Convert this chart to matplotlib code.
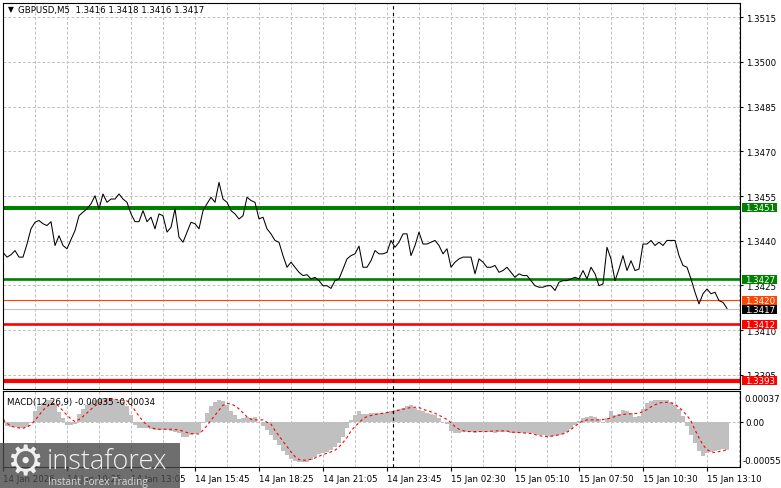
import numpy as np
import matplotlib.pyplot as plt
import matplotlib.transforms as mtransforms
from matplotlib.patches import Rectangle

plt.rcParams['font.family'] = ['DejaVu Sans']

# GBPUSD M5, close every 2 bars (10 min) starting 14 Jan 07:45
close = [
    1.34361, 1.34345, 1.34353, 1.34367, 1.34345, 1.34345, 1.34389, 1.34440, 1.34462, 1.34468,
    1.34457, 1.34451, 1.34464, 1.34384, 1.34417, 1.34384, 1.34373, 1.34404, 1.34434, 1.34484,
    1.34496, 1.34507, 1.34524, 1.34551, 1.34507, 1.34557, 1.34529, 1.34540, 1.34540, 1.34557,
    1.34540, 1.34529, 1.34490, 1.34464, 1.34464, 1.34501, 1.34464, 1.34479, 1.34440, 1.34490,
    1.34484, 1.34429, 1.34445, 1.34507, 1.34412, 1.34395, 1.34429, 1.34462, 1.34457, 1.34440,
    1.34501, 1.34524, 1.34546, 1.34529, 1.34596, 1.34540, 1.34529, 1.34501, 1.34490, 1.34473,
    1.34484, 1.34546, 1.34535, 1.34529, 1.34473, 1.34479, 1.34440, 1.34423, 1.34401, 1.34395,
    1.34350, 1.34311, 1.34328, 1.34311, 1.34294, 1.34283, 1.34286, 1.34272, 1.34277, 1.34266,
    1.34249, 1.34249, 1.34240, 1.34266, 1.34272, 1.34305, 1.34339, 1.34350, 1.34356, 1.34382,
    1.34311, 1.34311, 1.34333, 1.34367, 1.34356, 1.34356, 1.34361, 1.34401, 1.34378, 1.34395,
    1.34423, 1.34423, 1.34350, 1.34384, 1.34429, 1.34389, 1.34389, 1.34395, 1.34401, 1.34384,
    1.34356, 1.34373, 1.34311, 1.34328, 1.34339, 1.34345, 1.34345, 1.34345, 1.34289, 1.34339,
    1.34328, 1.34311, 1.34311, 1.34317, 1.34294, 1.34300, 1.34311, 1.34294, 1.34277, 1.34289,
    1.34283, 1.34283, 1.34266, 1.34249, 1.34244, 1.34244, 1.34249, 1.34249, 1.34233, 1.34261,
    1.34266, 1.34266, 1.34272, 1.34277, 1.34272, 1.34300, 1.34272, 1.34311, 1.34289, 1.34249,
    1.34255, 1.34378, 1.34339, 1.34266, 1.34305, 1.34350, 1.34300, 1.34333, 1.34300, 1.34305,
    1.34389, 1.34389, 1.34401, 1.34384, 1.34395, 1.34384, 1.34401, 1.34401, 1.34401, 1.34350,
    1.34317, 1.34311, 1.34272, 1.34227, 1.34188, 1.34222, 1.34238, 1.34222, 1.34227, 1.34199,
    1.34193, 1.34173,
]

# MACD(12,26,9) main (histogram) and signal, in units of 1e-5
macd_main = [
    3.2, -5.2, -6.1, -6.9, -8.1, -7.7, -6.1, -1.2, 13.3, 19.4,
    23.0, 25.8, 26.2, 21.4, 12.1, 4.8, -4.0, -4.0, -2.8, 8.9,
    15.3, 20.2, 23.4, 26.2, 27.4, 28.3, 28.3, 28.3, 27.4, 26.6,
    24.2, 19.4, 8.1, -4.0, -8.1, -8.1, -8.1, -9.3, -10.1, -10.1,
    -10.1, -10.1, -11.3, -12.5, -14.1, -19.0, -18.2, -16.1, -14.5, -13.3,
    -2.0, 10.9, 19.0, 24.2, 26.2, 25.4, 19.8, 13.3, 7.7, 3.2,
    4.0, 6.1, 4.8, 5.2, 0.0, -5.7, -9.7, -15.7, -22.2, -28.7,
    -35.1, -40.8, -45.2, -47.6, -49.2, -49.2, -48.4, -46.0, -43.2, -39.1,
    -37.5, -36.3, -33.9, -31.1, -25.4, -18.6, -7.3, 2.4, 8.1, 13.3,
    9.7, 8.9, 10.1, 10.1, 10.5, 10.9, 11.7, 12.5, 13.7, 15.3,
    16.1, 19.4, 20.2, 16.5, 14.5, 12.5, 10.9, 8.9, 7.7, 4.4,
    -0.8, -2.4, -10.9, -14.1, -13.7, -12.1, -12.1, -12.5, -13.7, -12.9,
    -12.1, -12.1, -12.9, -13.3, -12.5, -12.1, -12.1, -13.3, -13.7, -14.1,
    -14.1, -14.1, -14.1, -14.9, -15.7, -16.5, -17.4, -18.2, -17.4, -16.5,
    -14.9, -12.9, -8.9, -4.0, 1.2, 4.0, 6.1, 6.9, 6.1, 2.8,
    -1.6, 4.8, 12.5, 8.1, 9.7, 13.7, 12.5, 10.1, 5.2, 6.5,
    15.3, 22.2, 25.0, 25.8, 26.2, 26.2, 25.8, 23.8, 20.2, 15.3,
    6.9, -4.8, -16.1, -26.2, -35.9, -41.2, -38.3, -36.7, -35.5, -34.3,
    -33.5, -35.0,
]
macd_signal = [
    2.0, -2.0, -5.7, -6.9, -7.7, -8.1, -6.5, -4.0, 1.6, 7.7,
    13.7, 18.2, 21.4, 22.2, 18.2, 12.9, 7.7, 3.2, 0.0, 2.4,
    6.1, 10.5, 14.9, 19.0, 22.2, 24.6, 26.2, 26.6, 27.0, 26.2,
    25.8, 25.0, 21.0, 13.3, 6.5, 0.4, -4.4, -7.7, -8.5, -9.3,
    -9.3, -9.3, -9.3, -9.7, -10.1, -11.7, -13.3, -14.5, -14.9, -14.9,
    -10.5, -4.8, 1.6, 7.7, 13.7, 19.8, 21.8, 21.4, 19.0, 15.3,
    10.5, 5.7, 2.8, 2.0, 2.0, 2.0, -0.8, -3.2, -10.9, -17.4,
    -23.8, -30.3, -36.7, -42.4, -46.0, -46.8, -46.8, -45.6, -44.0, -42.0,
    -40.0, -38.3, -36.7, -34.7, -30.7, -25.4, -19.4, -11.3, -6.1, -1.2,
    3.2, 6.1, 7.3, 8.5, 9.3, 10.1, 10.9, 11.3, 12.5, 13.7,
    14.9, 16.1, 17.0, 17.4, 17.0, 14.9, 13.3, 11.7, 10.1, 7.7,
    5.2, 2.4, -1.2, -6.1, -9.3, -10.9, -12.1, -12.1, -12.1, -12.1,
    -12.1, -12.1, -11.7, -11.3, -11.3, -11.3, -11.3, -12.9, -12.9, -13.3,
    -13.7, -14.1, -14.5, -15.7, -17.0, -17.8, -18.2, -17.8, -17.0, -16.1,
    -14.9, -12.9, -9.7, -5.7, -2.0, 0.8, 2.0, 2.0, 2.0, 2.0,
    2.4, 3.2, 4.4, 6.1, 7.7, 8.5, 9.3, 9.3, 9.7, 10.1,
    12.1, 14.5, 17.8, 20.2, 22.6, 23.0, 23.4, 22.6, 20.6, 17.4,
    12.5, 7.3, 0.8, -10.1, -19.8, -28.3, -33.9, -36.7, -37.5, -36.3,
    -35.5, -34.0,
]

levels = [1.3451, 1.3427, 1.3420, 1.3412, 1.3393]
level_colors = ['#008000', '#008000', '#ff4500', '#ff0000', '#ff0000']
level_widths = [2.9, 1.9, 0.8, 1.9, 3.0]
last_price = 1.3417

price_ticks = [1.3395, 1.3410, 1.3425, 1.3440, 1.3455, 1.3470, 1.3485, 1.3500, 1.3515]
time_labels = ['14 Jan 2026', '14 Jan 10:25', '14 Jan 13:05', '14 Jan 15:45',
               '14 Jan 18:25', '14 Jan 21:05', '14 Jan 23:45', '15 Jan 02:30',
               '15 Jan 05:10', '15 Jan 07:50', '15 Jan 10:30', '15 Jan 13:10']
day_break = 195  # bar index of 15 Jan 00:00

W, H = 781, 489
FS = 6.2
grid_kw = dict(color='#c0c0c0', ls=(0, (3, 2)), lw=0.7, zorder=0)


def px_box(x0, y0, x1, y1):
    return [x0 / W, 1 - y1 / H, (x1 - x0) / W, (y1 - y0) / H]


fig = plt.figure(figsize=(W / 100, H / 100), dpi=100)
ax = fig.add_axes(px_box(3, 4, 740, 389.5))
axm = fig.add_axes(px_box(3, 392, 740, 468))

x_close = np.arange(len(close)) * 2
x_macd = np.arange(len(macd_main)) * 2
x_max = 368.5

# --- price window ---
for b in range(16, 369, 16):
    ax.axvline(b, **grid_kw)
    axm.axvline(b, **grid_kw)
for p in price_ticks:
    ax.axhline(p, **grid_kw)

ax.axhline(last_price, color='#c0c0c0', lw=0.8, zorder=1)
for lv, c, lw in zip(levels, level_colors, level_widths):
    ax.axhline(lv, color=c, lw=lw, zorder=2)
ax.plot(x_close, close, color='black', lw=0.75, zorder=3)
ax.axvline(day_break, color='black', ls=(0, (3, 3)), lw=0.8, zorder=3)

ax.set_xlim(0, x_max)
ax.set_ylim(1.33904, 1.35198)
ax.yaxis.tick_right()
ax.set_yticks(price_ticks)
ax.set_yticklabels([f'{p:.4f}' for p in price_ticks])
ax.tick_params(axis='y', direction='out', length=2.5, pad=1.5, labelsize=FS, width=0.8)
ax.tick_params(axis='x', bottom=False, labelbottom=False)

trans = mtransforms.blended_transform_factory(ax.transAxes, ax.transData)
box_left = (741.7 - 3) / 737
box_w = 35 / 737
tags = list(zip(levels, level_colors)) + [(last_price, 'black')]
for lv, c in tags:
    ax.add_patch(Rectangle((box_left, lv - 0.000152), box_w, 0.000304, transform=trans,
                           facecolor=c, edgecolor='none', clip_on=False, zorder=6))
    ax.text(box_left + 3 / 737, lv, f'{lv:.4f}', transform=trans, color='white',
            fontsize=FS, va='center', ha='left', clip_on=False, zorder=7)

# --- MACD window ---
axm.axhline(0, **grid_kw)
axm.bar(x_macd, np.array(macd_main) * 1e-5, width=2.0, color='#c0c0c0', linewidth=0, zorder=1)
axm.plot(x_macd, np.array(macd_signal) * 1e-5, color='red', ls=(0, (2.5, 2.5)), lw=0.8, zorder=2)
axm.axvline(day_break, color='black', ls=(0, (3, 3)), lw=0.8, zorder=3)
axm.set_xlim(0, x_max)
axm.set_ylim(-0.00055, 0.00037)
axm.yaxis.tick_right()
axm.set_yticks([0])
axm.set_yticklabels(['0.00'])
axm.tick_params(axis='y', direction='out', length=2.5, pad=1.5, labelsize=FS, width=0.8)
axm.text((744 - 3) / 737, (468 - 400) / 76, '0.00037', transform=axm.transAxes,
         fontsize=FS, va='center', ha='left', clip_on=False)
axm.text((742.5 - 3) / 737, (468 - 462) / 76, '-0.00055', transform=axm.transAxes,
         fontsize=FS, va='center', ha='left', clip_on=False)
axm.text(0.0054, 0.868, 'MACD(12,26,9) -0.00035 -0.00034', transform=axm.transAxes,
         fontsize=FS, va='center', ha='left', zorder=5)

axm.set_xticks([32 * j for j in range(len(time_labels))])
axm.set_xticklabels(time_labels)
for lbl in axm.get_xticklabels():
    lbl.set_ha('left')
axm.tick_params(axis='x', direction='out', length=3, pad=2, labelsize=FS, width=0.8)

for a in (ax, axm):
    for s in a.spines.values():
        s.set_color('black')
        s.set_linewidth(0.8)

# header
fig.text(8 / W, 1 - 10 / H, '\u25bc', fontsize=5.5, va='center', ha='left')
fig.text(18 / W, 1 - 10 / H, 'GBPUSD,M5  1.3416 1.3418 1.3416 1.3417', fontsize=FS,
         va='center', ha='left')

# watermark
fig.patches.append(Rectangle((0, 0), 180 / W, 45 / H, transform=fig.transFigure,
                             facecolor='#4a4a4a', alpha=0.8, edgecolor='none', zorder=10))
fig.text(24.5 / W, 1 - 463 / H, '\u2699', fontsize=30, color='#f0f0f0',
         va='center', ha='center', zorder=11)
fig.text(47 / W, 1 - 469 / H, 'instaforex', fontsize=19.5, color='#f0f0f0',
         family=['Open Sans', 'DejaVu Sans'], weight='light',
         va='baseline', ha='left', zorder=11)
fig.text(48 / W, 1 - 485 / H, 'Instant Forex Trading', fontsize=7.2, color='#d8d8d8',
         family=['Open Sans', 'DejaVu Sans'],
         va='baseline', ha='left', zorder=11)

fig.savefig('out.png', dpi=100)
